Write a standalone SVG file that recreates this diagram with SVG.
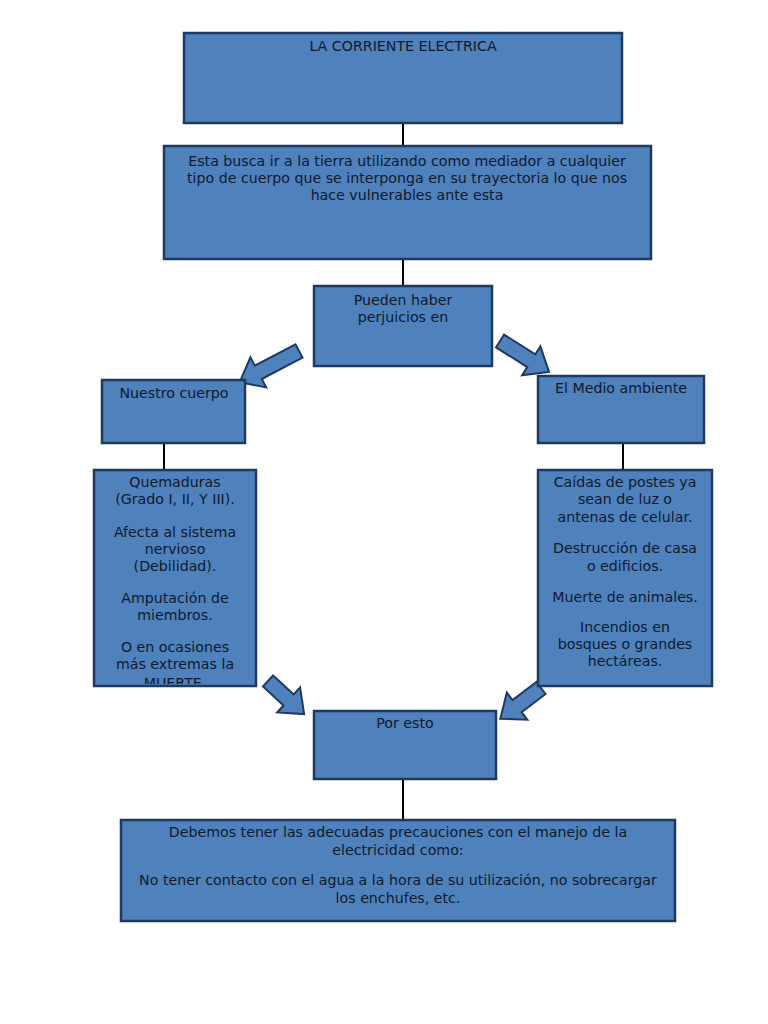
<svg xmlns="http://www.w3.org/2000/svg" width="768" height="1024" viewBox="0 0 768 1024">
  <defs>
    <style>
      .box { fill: #4f81bd; stroke: #1f3a60; stroke-width: 2.5; }
      .arrow { fill: #4f81bd; stroke: #1f3a60; stroke-width: 2; stroke-linejoin: miter; }
      .txt { font-family: "DejaVu Sans", "Liberation Sans", sans-serif; font-size: 14.2px; fill: #0e1a2c; text-anchor: middle; }
      .conn { stroke: #000000; stroke-width: 2; fill: none; }
    </style>
    <clipPath id="clipLeft">
      <rect x="95" y="471" width="160" height="213"/>
    </clipPath>
  </defs>
  <rect width="768" height="1024" fill="#ffffff"/>

  <g id="connectors">
    <line class="conn" x1="403" y1="123" x2="403" y2="146"/>
    <line class="conn" x1="403" y1="259" x2="403" y2="286"/>
    <line class="conn" x1="164" y1="443" x2="164" y2="470"/>
    <line class="conn" x1="623" y1="444" x2="623" y2="470" stroke-width="3"/>
    <line class="conn" x1="403" y1="780" x2="403" y2="820"/>
    <polygon id="arrow1" class="arrow" transform="translate(299,351) rotate(152.3)" points="0,-7.5 46,-7.5 46,-17 67,0 46,17 46,7.5 0,7.5"/>
    <polygon id="arrow2" class="arrow" transform="translate(500,341) rotate(32.3)" points="0,-7.5 37,-7.5 37,-17 58,0 37,17 37,7.5 0,7.5"/>
    <polygon id="arrow3" class="arrow" transform="translate(268,681) rotate(42.5)" points="0,-7.5 28,-7.5 28,-17 49,0 28,17 28,7.5 0,7.5"/>
    <polygon id="arrow4" class="arrow" transform="translate(541,688) rotate(142.9)" points="0,-7.5 30,-7.5 30,-17 51,0 30,17 30,7.5 0,7.5"/>
  </g>

  <g id="title">
    <rect class="box" x="184" y="33" width="438" height="90"/>
    <text class="txt" x="403" y="51">LA CORRIENTE ELECTRICA</text>
  </g>

  <g id="desc">
    <rect class="box" x="164" y="146" width="487" height="113"/>
    <text class="txt" x="407" y="166">Esta busca ir a la tierra utilizando como mediador a cualquier</text>
    <text class="txt" x="407" y="183">tipo de cuerpo que se interponga en su trayectoria lo que nos</text>
    <text class="txt" x="407" y="200">hace vulnerables ante esta</text>
  </g>

  <g id="perjuicios">
    <rect class="box" x="314" y="286" width="178" height="80"/>
    <text class="txt" x="403" y="305">Pueden haber</text>
    <text class="txt" x="403" y="322">perjuicios en</text>
  </g>

  <g id="cuerpo">
    <rect class="box" x="102" y="380" width="143" height="63"/>
    <text class="txt" x="174" y="398">Nuestro cuerpo</text>
  </g>

  <g id="ambiente">
    <rect class="box" x="538" y="376" width="166" height="67"/>
    <text class="txt" x="621" y="393">El Medio ambiente</text>
  </g>

  <g id="efectos-cuerpo">
    <rect class="box" x="94" y="470" width="162" height="216"/>
    <g clip-path="url(#clipLeft)">
      <text class="txt" x="175" y="487">Quemaduras</text>
      <text class="txt" x="175" y="504">(Grado I, II, Y III).</text>
      <text class="txt" x="175" y="537">Afecta al sistema</text>
      <text class="txt" x="175" y="554">nervioso</text>
      <text class="txt" x="175" y="571">(Debilidad).</text>
      <text class="txt" x="175" y="603">Amputación de</text>
      <text class="txt" x="175" y="620">miembros.</text>
      <text class="txt" x="175" y="652">O en ocasiones</text>
      <text class="txt" x="175" y="669">más extremas la</text>
      <text class="txt" x="175" y="688">MUERTE.</text>
    </g>
  </g>

  <g id="efectos-ambiente">
    <rect class="box" x="538" y="470" width="174" height="216"/>
    <text class="txt" x="625" y="487">Caídas de postes ya</text>
    <text class="txt" x="625" y="504">sean de luz o</text>
    <text class="txt" x="625" y="522">antenas de celular.</text>
    <text class="txt" x="625" y="553">Destrucción de casa</text>
    <text class="txt" x="625" y="571">o edificios.</text>
    <text class="txt" x="625" y="602">Muerte de animales.</text>
    <text class="txt" x="625" y="632">Incendios en</text>
    <text class="txt" x="625" y="649">bosques o grandes</text>
    <text class="txt" x="625" y="666">hectáreas.</text>
  </g>

  <g id="por-esto">
    <rect class="box" x="314" y="711" width="182" height="68"/>
    <text class="txt" x="405" y="728">Por esto</text>
  </g>

  <g id="precauciones">
    <rect class="box" x="121" y="820" width="554" height="101"/>
    <text class="txt" x="398" y="837">Debemos tener las adecuadas precauciones con el manejo de la</text>
    <text class="txt" x="398" y="855">electricidad como:</text>
    <text class="txt" x="398" y="885">No tener contacto con el agua a la hora de su utilización, no sobrecargar</text>
    <text class="txt" x="398" y="903">los enchufes, etc.</text>
  </g>
</svg>
